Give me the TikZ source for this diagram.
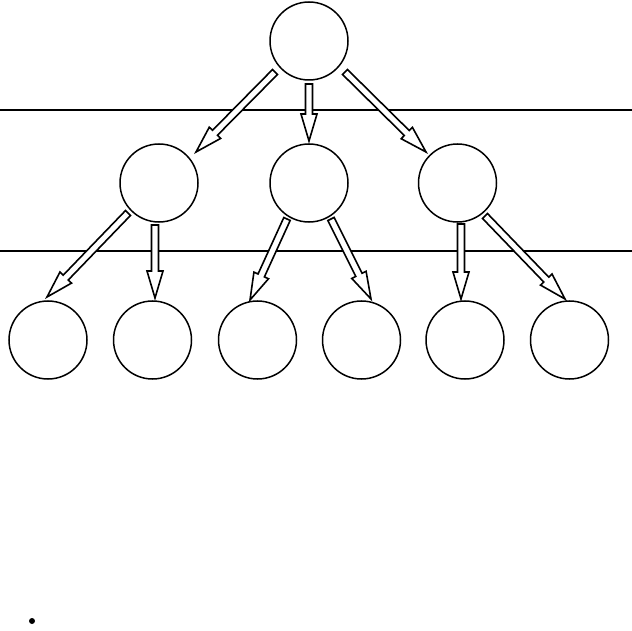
\documentclass[tikz,border=0pt]{standalone}
\usetikzlibrary{calc}
\tikzset{
  circ/.style={circle, draw, line width=1.5pt, minimum size=78pt, inner sep=0pt},
  levelline/.style={line width=2.8pt},
  harrowstyle/.style={draw, fill=white, line width=1.6pt, line join=miter},
}
\newcommand\harrow[2]{%
  \coordinate (hh) at ($(#2)!27pt!(#1)$);
  \draw[harrowstyle] ($(#1)!3.5pt!90:(#2)$) -- ($(hh)!3.5pt!-90:(#1)$) -- ($(hh)!8pt!-90:(#1)$) -- (#2)
    -- ($(hh)!8pt!90:(#1)$) -- ($(hh)!3.5pt!90:(#1)$) -- ($(#1)!3.5pt!-90:(#2)$) -- cycle;
}
\begin{document}
\begin{tikzpicture}[x=1pt,y=-1pt]
\useasboundingbox (0,0) rectangle (632,631);
% level lines
\coordinate (l1a) at (0,110); \coordinate (l1b) at (632,110);
\coordinate (l2a) at (0,251); \coordinate (l2b) at (632,251);
\draw[levelline] (l1a) -- (l1b);
\draw[levelline] (l2a) -- (l2b);
% nodes
\node[circ] (r) at (309,41) {};
\node[circ] (a) at (159,183) {};
\node[circ] (b) at (309,183) {};
\node[circ] (c) at (457.5,183) {};
\node[circ] (a1) at (48,340) {};
\node[circ] (a2) at (152.5,340) {};
\node[circ] (b1) at (257.5,340) {};
\node[circ] (b2) at (361.5,340) {};
\node[circ] (c1) at (465,340) {};
\node[circ] (c2) at (569.5,340) {};
% arrow ends
\coordinate (t1) at (275,72);  \coordinate (e1) at (196,152);
\coordinate (t2) at (309,84);  \coordinate (e2) at (309,141);
\coordinate (t3) at (345,72);  \coordinate (e3) at (426,152);
\coordinate (t4) at (128,213); \coordinate (e4) at (47,297);
\coordinate (t5) at (155,225); \coordinate (e5) at (155,298);
\coordinate (t6) at (287,219); \coordinate (e6) at (250,300);
\coordinate (t7) at (331,219); \coordinate (e7) at (371,299);
\coordinate (t8) at (461,224); \coordinate (e8) at (461,299);
\coordinate (t9) at (485,216); \coordinate (e9) at (565,299);
\harrow{t1}{e1}
\harrow{t2}{e2}
\harrow{t3}{e3}
\harrow{t4}{e4}
\harrow{t5}{e5}
\harrow{t6}{e6}
\harrow{t7}{e7}
\harrow{t8}{e8}
\harrow{t9}{e9}
% dot
\node[circle, fill=black, minimum size=6pt, inner sep=0pt] (dot) at (32,621) {};
\end{tikzpicture}
\end{document}
